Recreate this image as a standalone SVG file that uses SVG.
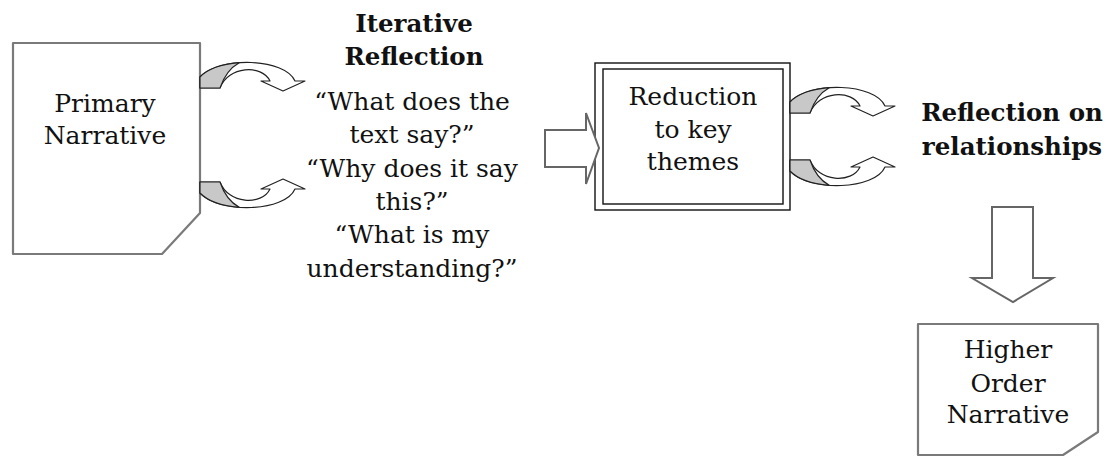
<svg xmlns="http://www.w3.org/2000/svg" width="1115" height="457" viewBox="0 0 1115 457">
<style>
text{font-family:"DejaVu Serif","Liberation Serif",serif;font-size:25px;fill:#111;text-anchor:middle}
.b{font-weight:bold;font-size:24.5px}
.doc{fill:#fff;stroke:#7a7a7a;stroke-width:2.2;stroke-linejoin:round}
.dbl{fill:none;stroke:#111;stroke-width:1.4}
.blk{fill:#fff;stroke:#666;stroke-width:2;stroke-linejoin:miter}
.band{fill:#fff;stroke:#222;stroke-width:1.2;stroke-linejoin:round}
.back{fill:#c8c8c8;stroke:#222;stroke-width:1.2;stroke-linejoin:round}
</style>
<defs>
<g id="curl">
<path class="band" d="M200,77 C220,56 285,58 295,81 L305,81 L283,91 L261,81 L270,81 C262,64 228,66 220,88 L200,88 Z"/>
<path class="back" d="M200,77 C208,68.6 223.2,63.9 239.2,62.7 Q226,70 220,88 L200,88 Z"/>
</g>
</defs>
<g id="primary-narrative">
<path class="doc" d="M13,43 H200 V213 L162,254 H13 Z"/>
<text x="105" y="112">Primary</text>
<text x="105" y="144">Narrative</text>
</g>
<g id="iterative-reflection">
<text class="b" x="414" y="32">Iterative</text>
<text class="b" x="414" y="65">Reflection</text>
<text x="412" y="110">“What does the</text>
<text x="412" y="143">text say?”</text>
<text x="412" y="177">“Why does it say</text>
<text x="412" y="210">this?”</text>
<text x="412" y="243">“What is my</text>
<text x="412" y="277">understanding?”</text>
</g>
<g id="reduction">
<rect class="dbl" x="595" y="63" width="195" height="147"/>
<rect class="dbl" x="603" y="69" width="180" height="135"/>
<text x="693" y="105">Reduction</text>
<text x="693" y="138">to key</text>
<text x="693" y="170">themes</text>
</g>
<g id="reflection-relationships">
<text class="b" x="1012" y="121">Reflection on</text>
<text class="b" x="1012" y="155">relationships</text>
</g>
<g id="higher-order-narrative">
<path class="doc" d="M918,324 H1098 V432 L1063,455 H918 Z"/>
<text x="1008" y="358">Higher</text>
<text x="1008" y="392">Order</text>
<text x="1008" y="423">Narrative</text>
</g>
<g id="connectors">
<use href="#curl"/>
<use href="#curl" transform="translate(0,270) scale(1,-1)"/>
<use href="#curl" transform="translate(590,25)"/>
<use href="#curl" transform="translate(590,248) scale(1,-1)"/>
<path class="blk" d="M545,130 H586 V113 L599,148 L586,184 V167 H545 Z"/>
<path class="blk" d="M992,207 H1033 V278 H1053 L1013,302 L972,278 H992 Z"/>
</g>
</svg>
